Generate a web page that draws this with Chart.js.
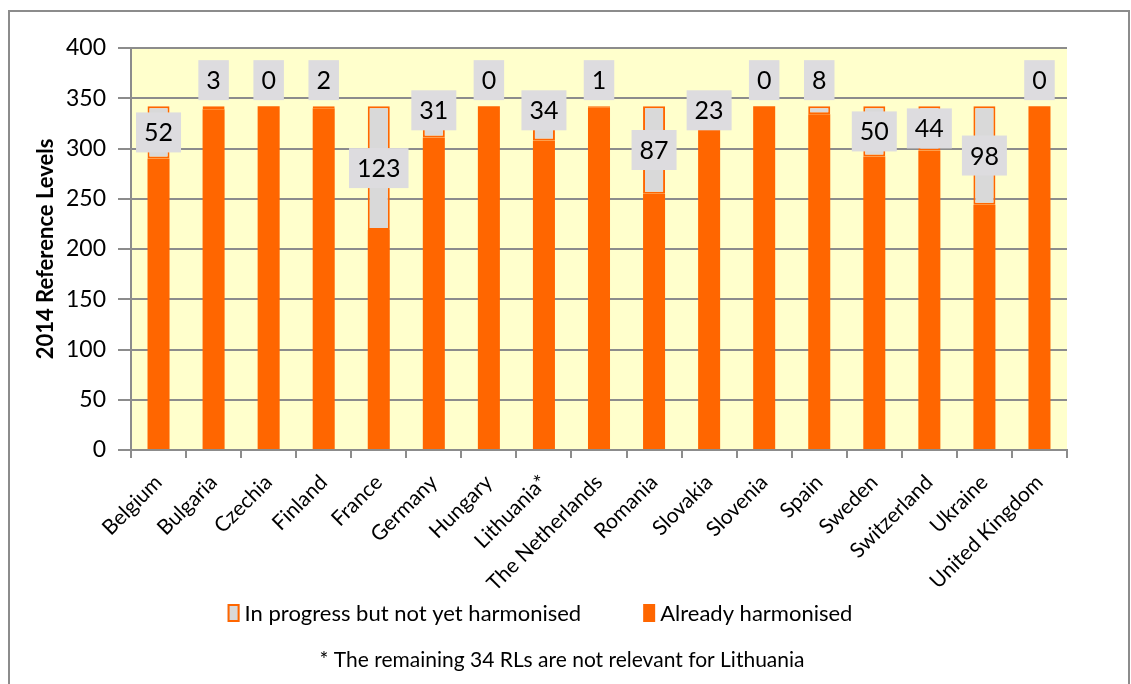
<!DOCTYPE html>
<html>
<head>
<meta charset="utf-8">
<script src="https://cdn.jsdelivr.net/npm/chart.js@4/dist/chart.umd.min.js"></script>
<style>
    html, body { margin: 0; padding: 0; background: #fff; }
    #wrap { position: relative; width: 1131px; height: 684px; }
    #frame {
        position: absolute; left: 8px; top: 10px; width: 1122px; height: 700px;
        border: 2px solid #8c8c8c; box-sizing: border-box; pointer-events: none;
    }
    canvas { position: absolute; left: 0; top: 0; }
</style>
</head>
<body>
<div id="wrap">
    <div id="frame"></div>
    <canvas id="myChart" width="1131" height="684"></canvas>
</div>
<script>
const countries = ['Belgium', 'Bulgaria', 'Czechia', 'Finland', 'France', 'Germany', 'Hungary', 'Lithuania*',
    'The Netherlands', 'Romania', 'Slovakia', 'Slovenia', 'Spain', 'Sweden', 'Switzerland', 'Ukraine', 'United Kingdom'];
const harmonised = [290, 339, 342, 340, 219, 311, 342, 308, 341, 255, 319, 342, 334, 292, 298, 244, 342];
const inProgress = [52, 3, 0, 2, 123, 31, 0, 34, 1, 87, 23, 0, 8, 50, 44, 98, 0];
const yTicks = [0, 50, 100, 150, 200, 250, 300, 350, 400];
const footnote = '* The remaining 34 RLs are not relevant for Lithuania';

const FONT = 'Lato, "Open Sans", sans-serif';
const ORANGE = '#ff6600';
const GRID = '#8c8c8c';

// yellow plot background
const plotBackground = {
    id: 'plotBackground',
    beforeDraw(chart) {
        const { ctx, chartArea } = chart;
        ctx.save();
        ctx.fillStyle = '#ffffcc';
        ctx.fillRect(chartArea.left, chartArea.top, chartArea.right - chartArea.left, chartArea.bottom - chartArea.top);
        ctx.restore();
    }
};

// gray boxes with the "in progress" values
const valueBoxes = {
    id: 'valueBoxes',
    afterDatasetsDraw(chart) {
        const { ctx } = chart;
        const y = chart.scales.y;
        const meta = chart.getDatasetMeta(1);
        ctx.save();
        ctx.font = '25px ' + FONT;
        ctx.textAlign = 'center';
        ctx.textBaseline = 'middle';
        meta.data.forEach((bar, i) => {
            const v = inProgress[i];
            const top = harmonised[i] + v;
            let pos = harmonised[i] + v / 2;
            if (v < 15) pos = top + 26;        // tiny segments: label above the bar
            else if (v < 40) pos = top - 4;    // short segments: label near the top
            const cy = y.getPixelForValue(pos);
            const text = String(v);
            const w = ctx.measureText(text).width + 16;
            const h = 40;
            ctx.fillStyle = '#dddcdf';
            ctx.fillRect(bar.x - w / 2, cy - h / 2, w, h);
            ctx.fillStyle = '#000';
            ctx.fillText(text, bar.x, cy + 1);
        });
        ctx.restore();
    }
};

// legend + footnote under the axis labels
const bottomText = {
    id: 'bottomText',
    afterDraw(chart) {
        const { ctx } = chart;
        const ds = chart.data.datasets;
        const items = [ds[1], ds[0]];
        ctx.save();
        ctx.font = '22px ' + FONT;
        ctx.textBaseline = 'middle';
        ctx.textAlign = 'left';
        const box = 12, gap = 5, spacing = 62;
        const widths = items.map(d => box + gap + ctx.measureText(d.label).width);
        const total = widths[0] + spacing + widths[1];
        let x = 540 - total / 2;
        const ly = 613;
        items.forEach((d, i) => {
            ctx.fillStyle = d.backgroundColor;
            ctx.fillRect(x, ly - 9, box, 18);
            if (d.borderWidth) {
                ctx.strokeStyle = d.borderColor;
                ctx.lineWidth = 2;
                ctx.strokeRect(x + 1, ly - 8, box - 2, 16);
            }
            ctx.fillStyle = '#000';
            ctx.fillText(d.label, x + box + gap, ly + 1);
            x += widths[i] + spacing;
        });
        ctx.textAlign = 'center';
        ctx.font = '21px ' + FONT;
        ctx.fillText(footnote, 562, 660);
        ctx.restore();
    }
};

const ctx = document.getElementById('myChart');

new Chart(ctx, {
    type: 'bar',
    data: {
        labels: countries,
        datasets: [{
            label: 'Already harmonised',
            data: harmonised,
            backgroundColor: ORANGE,
            borderWidth: 0,
            categoryPercentage: 1,
            barPercentage: 0.4
        }, {
            label: 'In progress but not yet harmonised',
            data: inProgress,
            backgroundColor: '#d9d9d9',
            borderColor: ORANGE,
            borderWidth: 2,
            borderSkipped: false,
            categoryPercentage: 1,
            barPercentage: 0.4
        }]
    },
    options: {
        responsive: false,
        animation: false,
        layout: { padding: { left: 33, right: 64, top: 48, bottom: 74 } },
        plugins: {
            legend: { display: false },
            tooltip: { enabled: false }
        },
        scales: {
            x: {
                stacked: true,
                grid: {
                    drawOnChartArea: false,
                    drawTicks: true,
                    tickLength: 8,
                    color: GRID,
                    lineWidth: 2
                },
                border: { color: GRID, width: 2 },
                ticks: {
                    color: '#000',
                    font: { family: FONT, size: 21 },
                    maxRotation: 45,
                    minRotation: 45,
                    autoSkip: false,
                    padding: 12
                },
                afterFit(scale) { scale.height = 160; }
            },
            y: {
                stacked: true,
                min: 0,
                max: 400,
                afterBuildTicks(scale) { scale.ticks = yTicks.map(v => ({ value: v })); },
                grid: {
                    color: GRID,
                    lineWidth: 2,
                    tickLength: 13
                },
                border: { color: GRID, width: 2 },
                ticks: {
                    color: '#000',
                    font: { family: FONT, size: 23 },
                    padding: 12
                },
                title: {
                    display: true,
                    text: '2014 Reference Levels',
                    color: '#000',
                    font: { family: FONT, size: 22, weight: 'bold' },
                    padding: 0
                },
                afterFit(scale) { scale.width = 98; }
            }
        }
    },
    plugins: [plotBackground, valueBoxes, bottomText]
});
</script>
</body>
</html>
